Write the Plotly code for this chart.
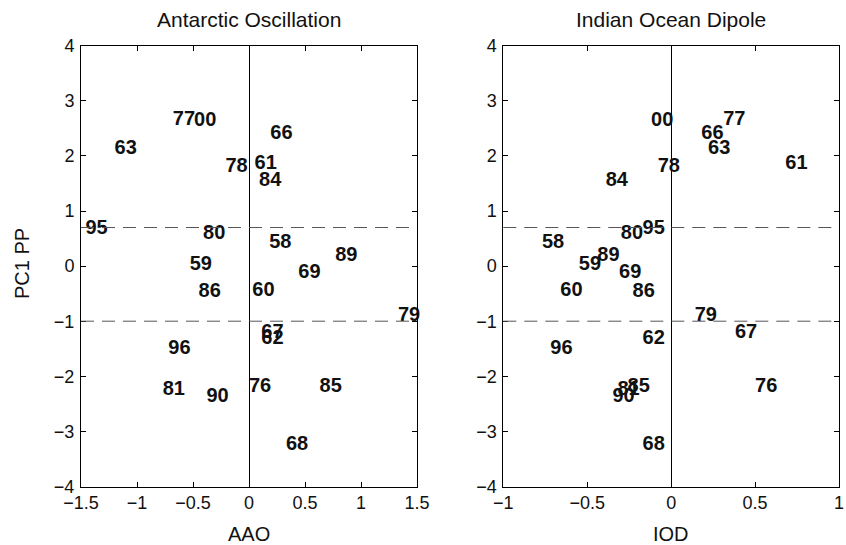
import plotly.graph_objects as go
from plotly.subplots import make_subplots

years = ["58", "59", "60", "61", "62", "63", "66", "67", "68", "69", "76", "77",
         "78", "79", "80", "81", "84", "85", "86", "89", "90", "95", "96", "00"]
pc1_pp = [0.42, 0.02, -0.46, 1.86, -1.33, 2.13, 2.40, -1.21, -3.25, -0.12, -2.19, 2.65,
          1.80, -0.91, 0.59, -2.25, 1.54, -2.20, -0.47, 0.19, -2.38, 0.67, -1.50, 2.64]
aao = [0.18, -0.53, 0.03, 0.05, 0.11, -1.20, 0.19, 0.11, 0.33, 0.44, 0.00, -0.68,
       -0.21, 1.33, -0.41, -0.77, 0.09, 0.63, -0.45, 0.77, -0.38, -1.46, -0.72, -0.49]
iod = [-0.77, -0.55, -0.66, 0.68, -0.17, 0.22, 0.18, 0.38, -0.17, -0.31, 0.50, 0.31,
       -0.08, 0.14, -0.30, -0.32, -0.39, -0.26, -0.23, -0.44, -0.35, -0.17, -0.72, -0.12]

thresholds = [0.7, -1.0]
aao_ticks = [-1.5, -1, -0.5, 0, 0.5, 1, 1.5]
iod_ticks = [-1, -0.5, 0, 0.5, 1]
y_ticks = [-4, -3, -2, -1, 0, 1, 2, 3, 4]

FONT = "Liberation Sans, Arial, Helvetica, sans-serif"

fig = make_subplots(rows=1, cols=2)

for col, xs in ((1, aao), (2, iod)):
    fig.add_trace(go.Scatter(
        x=xs, y=pc1_pp, text=years, mode="text",
        textposition="middle right",
        textfont=dict(family=FONT, size=20, color="#111111", weight="bold"),
        cliponaxis=False, showlegend=False, hoverinfo="skip",
    ), row=1, col=col)
    for t in thresholds:
        fig.add_hline(y=t, line=dict(color="#555555", width=1, dash="13px,8px"),
                      row=1, col=col)

axis_common = dict(
    showline=True, linecolor="black", linewidth=1, mirror="ticks",
    ticks="inside", ticklen=5, tickcolor="black", tickwidth=1,
    showgrid=False, automargin=False,
    tickfont=dict(family=FONT, size=18, color="#111111"),
)

fig.update_xaxes(range=[-1.5, 1.5], tickvals=aao_ticks,
                 domain=[81 / 846, 417 / 846], zeroline=True,
                 zerolinecolor="black", zerolinewidth=1, **axis_common, row=1, col=1)
fig.update_xaxes(range=[-1, 1], tickvals=iod_ticks,
                 domain=[503.3 / 846, 839 / 846], zeroline=True,
                 zerolinecolor="black", zerolinewidth=1, **axis_common, row=1, col=2)
fig.update_yaxes(range=[-4, 4], tickvals=y_ticks, zeroline=False,
                 ticklabelstandoff=2,
                 domain=[1 - 486.5 / 545, 1 - 45.7 / 545], **axis_common)

ann_font = dict(family=FONT, size=20, color="#111111")
annotations = [
    dict(text="Antarctic Oscillation", x=249 / 846, y=1 - 19 / 545, font=dict(family=FONT, size=21, color="#111111")),
    dict(text="Indian Ocean Dipole", x=671 / 846, y=1 - 19 / 545, font=dict(family=FONT, size=21, color="#111111")),
    dict(text="AAO", x=249 / 846, y=1 - 534 / 545, font=ann_font),
    dict(text="IOD", x=671 / 846, y=1 - 534 / 545, font=ann_font),
    dict(text="PC1 PP", x=22 / 846, y=1 - 264 / 545, textangle=-90, font=ann_font),
]
for a in annotations:
    fig.add_annotation(xref="paper", yref="paper", showarrow=False,
                       xanchor="center", yanchor="middle", **a)

fig.update_layout(
    width=846, height=545, template="none",
    margin=dict(l=0, r=0, t=0, b=0),
    paper_bgcolor="white", plot_bgcolor="white",
    showlegend=False,
)

fig.write_html("out.html", config={"displayModeBar": False},
               post_script="document.body.style.margin='0px';document.body.style.overflow='hidden';")
